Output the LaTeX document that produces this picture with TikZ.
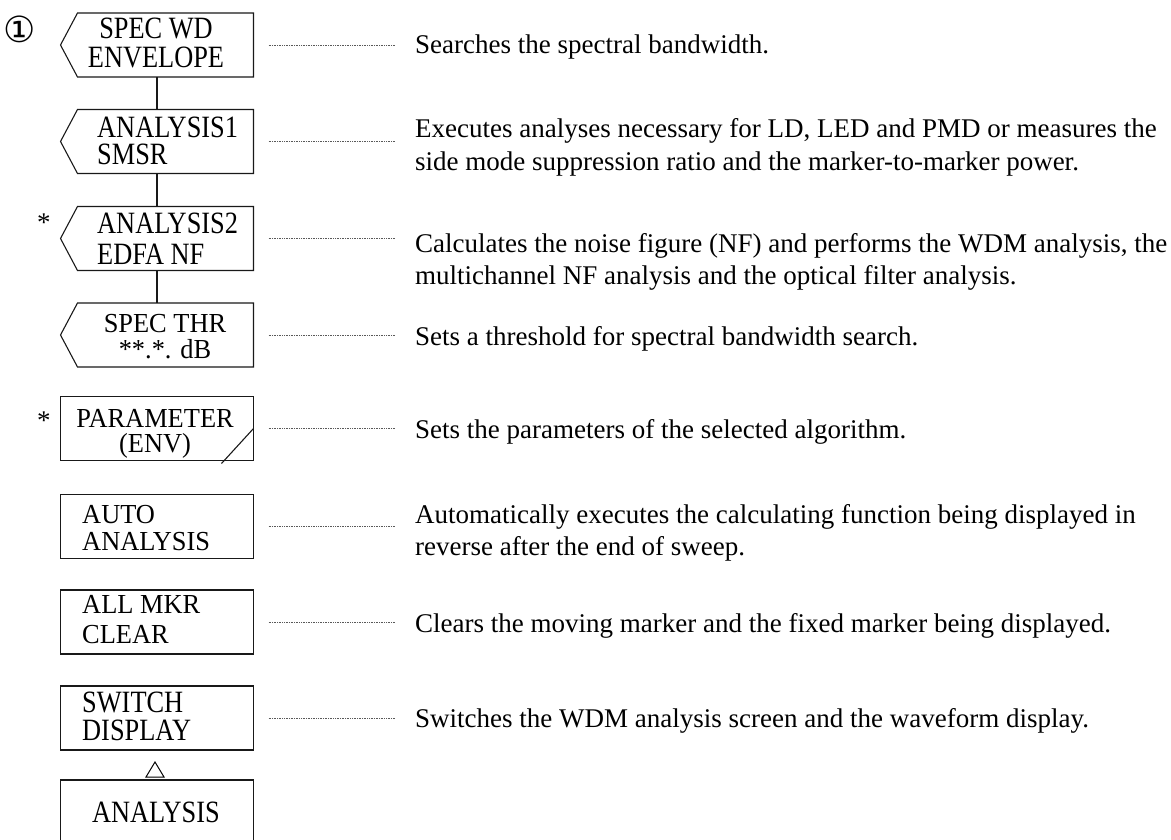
\documentclass[tikz,border=0pt]{standalone}
\usepackage{fontspec}
\setmainfont{Liberation Serif}
\newfontfamily\boxfont[FakeStretch=0.85]{Liberation Serif}
\newfontfamily\boxfontb[FakeStretch=0.96]{Liberation Serif}
\newfontfamily\symfont{DejaVu Sans}
\usetikzlibrary{calc}
\begin{document}
\begin{tikzpicture}[x=1pt,y=-1pt,
  box/.style={minimum width=193pt, minimum height=64pt, inner sep=0pt, outer sep=0pt},
  frame/.style={line width=1.1pt, black!90},
  btxtA/.style={inner sep=0pt, font=\boxfont\fontsize{31}{#1}\selectfont},
  btxtA/.default=29,
  btxtB/.style={inner sep=0pt, font=\boxfontb\fontsize{27.5}{#1}\selectfont},
  btxtB/.default=27,
  dtxt/.style={inner sep=0pt, anchor=base west, font=\fontsize{27}{32}\selectfont},
  lead/.style={line width=0.8pt, black!65, dash pattern=on 1pt off 0.7pt},
  conn/.style={line width=1.1pt, black!90}]
\useasboundingbox (0,0) rectangle (1171,840);

% boxes
\node[box] (b1) at (157,45) {};
\node[box] (b2) at (157,141.5) {};
\node[box] (b3) at (157,238.5) {};
\node[box] (b4) at (157,335) {};
\node[box,draw,frame] (b5) at (157,428.5) {};
\node[box,draw,frame] (b6) at (157,526.5) {};
\node[box,draw,frame] (b7) at (157,622) {};
\node[box,draw,frame] (b8) at (157,718) {};
\node[box,minimum height=60pt] (b9) at (157,810) {};

\foreach \b in {b1,b2,b3,b4}{
  \draw[frame] ($(\b.north west)+(17,0)$) -- (\b.north east) -- (\b.south east)
    -- ($(\b.south west)+(17,0)$) -- (\b.west) -- cycle;
}
\draw[frame] (b9.south west) -- (b9.north west) -- (b9.north east) -- (b9.south east);

% connectors
\draw[conn] (b1.south) -- (b2.north);
\draw[conn] (b2.south) -- (b3.north);
\draw[conn] (b3.south) -- (b4.north);
\draw[frame] (b5.east) -- ($(b5.south east)+(-32,3)$);
\draw[line width=1pt] ($(b8.south)+(-2,12)$) -- ($(b8.south)+(-11,27)$) -- ($(b8.south)+(7,27)$) -- cycle;

% box texts (anchor base = last line baseline)
\node[btxtA=29,align=center,anchor=base] (t1) at (156,68) {SPEC WD\\ENVELOPE};
\node[btxtA=28,align=left,anchor=base west] (t2) at (97,165) {ANALYSIS1\\SMSR};
\node[btxtA=32,align=left,anchor=base west] (t3) at (97,265) {ANALYSIS2\\EDFA NF};
\node[btxtB=26,align=center,anchor=base] (t4) at (165,358) {SPEC THR\\**.*. dB};
\node[btxtB=25,align=center,anchor=base] (t5) at (155,452) {PARAMETER\\(ENV)};
\node[btxtB=27,align=left,anchor=base west] (t6) at (82,550) {AUTO\\ANALYSIS};
\node[btxtB=30,align=left,anchor=base west] (t7) at (82,643) {ALL MKR\\CLEAR};
\node[btxtA=28,align=left,anchor=base west] (t8) at (82,740) {SWITCH\\DISPLAY};
\node[btxtA,anchor=base] (t9) at (156,822) {ANALYSIS};

% markers
\node[inner sep=0pt, font=\symfont\fontsize{36}{36}\selectfont] (m1) at (20,29) {①};
\node[dtxt] (s3) at (37,232) {*};
\node[dtxt] (s5) at (37,429) {*};

% descriptions
\node[dtxt] (d1) at (415,54) {Searches the spectral bandwidth.};
\node[dtxt] (d2) at (415,138) {Executes analyses necessary for LD, LED and PMD or measures the};
\node[dtxt] (d2b) at (415,171) {side mode suppression ratio and the marker-to-marker power.};
\node[dtxt] (d3) at (415,252) {Calculates the noise figure (NF) and performs the WDM analysis, the};
\node[dtxt] (d3b) at (415,284) {multichannel NF analysis and the optical filter analysis.};
\node[dtxt] (d4) at (415,345) {Sets a threshold for spectral bandwidth search.};
\node[dtxt] (d5) at (415,438) {Sets the parameters of the selected algorithm.};
\node[dtxt] (d6) at (415,523) {Automatically executes the calculating function being displayed in};
\node[dtxt] (d6b) at (415,555) {reverse after the end of sweep.};
\node[dtxt] (d7) at (415,632) {Clears the moving marker and the fixed marker being displayed.};
\node[dtxt] (d8) at (415,727) {Switches the WDM analysis screen and the waveform display.};

% leader lines
\foreach \b/\d in {b1/d1,b2/d2,b3/d3,b4/d4,b5/d5,b6/d6,b7/d7,b8/d8}{
  \draw[lead] ($(\b.east)+(15,0)$) -- ($(\b.east -| \d.west)+(-20,0)$);
}
\end{tikzpicture}
\end{document}
